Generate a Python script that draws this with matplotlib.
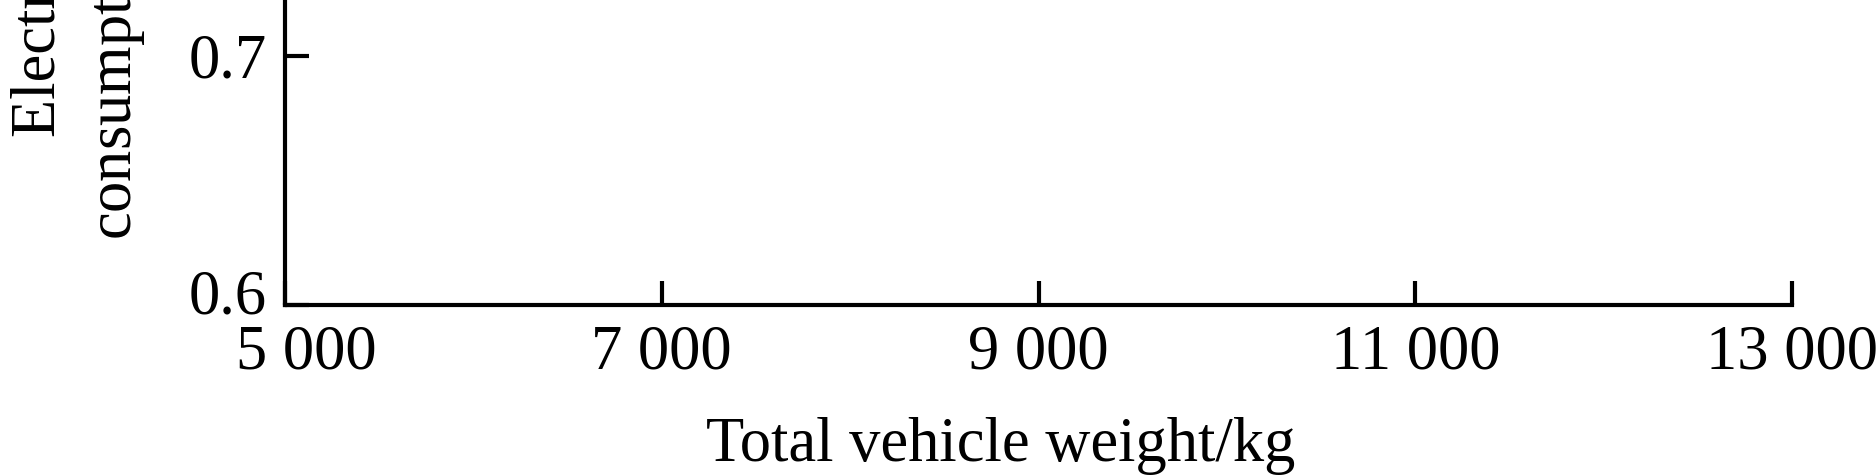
import matplotlib
matplotlib.use("Agg")
import matplotlib.pyplot as plt
import matplotlib.transforms as mtransforms

plt.rcParams['font.family'] = ['Liberation Serif', 'DejaVu Serif']

# axis data (only the lower part of the chart is in the picture)
x_ticks = [5000, 7000, 9000, 11000, 13000]
x_labels = ['5 000', '7 000', '9 000', '11 000', '13 000']
y_ticks = [0.6, 0.7]
y_labels = ['0.6', '0.7']
x_range = (5000, 13000)
y_range = (0.6, 0.9)

fs = 45

fig = plt.figure(figsize=(18.76, 4.76), dpi=100)
# the original chart is cropped: the axes run off the top of the picture
ax = fig.add_axes([285 / 1876, 171 / 476, 1507 / 1876, 747 / 476])

ax.set_xlim(*x_range)
ax.set_ylim(*y_range)
ax.set_xticks(x_ticks)
ax.set_xticklabels(x_labels)
ax.set_yticks(y_ticks)
ax.set_yticklabels(y_labels)

for s in ['top', 'right']:
    ax.spines[s].set_visible(False)
for s in ['left', 'bottom']:
    ax.spines[s].set_linewidth(3)

ax.tick_params(axis='both', direction='in', length=17, width=3, labelsize=fs)
ax.tick_params(axis='x', pad=14)
ax.tick_params(axis='y', pad=13)

# first labels nudged apart like in the original
lab = ax.get_xticklabels()[0]
lab.set_transform(lab.get_transform() + mtransforms.ScaledTranslation(21 / 100, 0, fig.dpi_scale_trans))
lab = ax.get_yticklabels()[0]
lab.set_transform(lab.get_transform() + mtransforms.ScaledTranslation(0, 13 / 100, fig.dpi_scale_trans))

ax.set_xlabel('Total vehicle weight/kg', fontsize=fs, va='baseline')
ax.xaxis.set_label_coords(1001 / 1876, 15 / 476, transform=fig.transFigure)

# two line y label, only its lower part is visible
fig.text(55 / 1876, 339 / 476, 'Electric energy', fontsize=fs, rotation=90,
         rotation_mode='anchor', ha='left', va='baseline')
fig.text(132 / 1876, 236 / 476, 'consumption/(kW·h·km$^{-1}$)', fontsize=fs, rotation=90,
         rotation_mode='anchor', ha='left', va='baseline')

fig.savefig('out.png', dpi=100)
